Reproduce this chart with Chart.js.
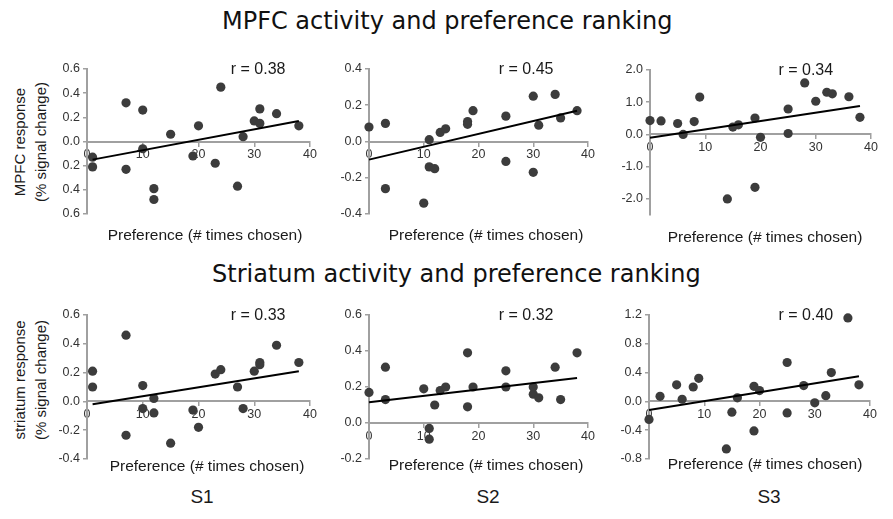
<!DOCTYPE html>
<html>
<head>
<meta charset="utf-8">
<script src="https://cdn.jsdelivr.net/npm/chart.js@4.4.1/dist/chart.umd.min.js"></script>
<style>
  body { margin: 0; background: #fff; }
  #wrap { position: relative; width: 893px; height: 519px; overflow: hidden; font-family: "Liberation Sans", Arial, sans-serif; color: #1a1a1a; }
  #wrap canvas { position: absolute; }
  .title { position: absolute; font-family: "DejaVu Sans", sans-serif; font-size: 24px; line-height: 28px; white-space: nowrap; color: #111; }
  .xtitle { position: absolute; width: 260px; text-align: center; font-size: 15.5px; line-height: 18px; white-space: nowrap; }
  .ytitle { position: absolute; width: 170px; height: 44px; text-align: center; font-size: 15px; line-height: 21px; transform: rotate(-90deg); white-space: nowrap; }
  .subj { position: absolute; width: 60px; text-align: center; font-size: 19px; line-height: 22px; }
</style>
</head>
<body>
<div id="wrap">
  <div class="title" style="left:222px; top:7px;">MPFC activity and preference ranking</div>
  <div class="title" style="left:212px; top:260px;">Striatum activity and preference ranking</div>
  <div class="ytitle" style="left:-54px; top:120px;">MPFC response<br>(% signal change)</div>
  <div class="ytitle" style="left:-54px; top:358px;">striatum response<br>(% signal change)</div>
  <div class="subj" style="left:172px; top:486px;">S1</div>
  <div class="subj" style="left:458px; top:486px;">S2</div>
  <div class="subj" style="left:739px; top:486px;">S3</div>
</div>
<script>
// x axis: number of times each item was chosen
const prefTicks = [0, 10, 20, 30, 40];
const xTitle = "Preference (# times chosen)";
const rValues = ["r = 0.38", "r = 0.45", "r = 0.34", "r = 0.33", "r = 0.32", "r = 0.40"];

// MPFC, subjects S1..S3
const mpfcS1X = [1, 1, 7, 7, 10, 10, 12, 12, 15, 19, 20, 23, 24, 27, 28, 30, 31, 31, 34, 38];
const mpfcS1Y = [-0.13, -0.21, 0.32, -0.23, 0.26, -0.06, -0.39, -0.48, 0.06, -0.12, 0.13, -0.18, 0.45, -0.37, 0.04, 0.17, 0.15, 0.27, 0.23, 0.13];
const mpfcS2X = [0, 3, 3, 10, 11, 11, 12, 13, 14, 18, 18, 19, 25, 25, 30, 30, 31, 34, 35, 38];
const mpfcS2Y = [0.08, 0.10, -0.26, -0.34, 0.01, -0.14, -0.15, 0.05, 0.07, 0.11, 0.095, 0.17, 0.14, -0.11, 0.25, -0.17, 0.09, 0.26, 0.13, 0.17];
const mpfcS3X = [0, 2, 5, 6, 8, 9, 14, 15, 16, 19, 19, 20, 25, 25, 28, 30, 32, 33, 36, 38];
const mpfcS3Y = [0.43, 0.42, 0.34, 0.0, 0.40, 1.16, -2.0, 0.23, 0.30, 0.51, -1.64, -0.09, 0.79, 0.03, 1.60, 1.03, 1.31, 1.26, 1.17, 0.53];

// striatum, subjects S1..S3
const strS1X = [1, 1, 7, 7, 10, 10, 12, 12, 15, 19, 20, 23, 24, 27, 28, 30, 31, 31, 34, 38];
const strS1Y = [0.21, 0.10, 0.46, -0.235, 0.11, -0.05, 0.02, -0.08, -0.29, -0.06, -0.18, 0.19, 0.22, 0.10, -0.05, 0.21, 0.27, 0.255, 0.39, 0.27];
const strS2X = [0, 3, 3, 10, 11, 11, 12, 13, 14, 18, 18, 19, 25, 25, 30, 30, 31, 34, 35, 38];
const strS2Y = [0.17, 0.31, 0.13, 0.19, -0.03, -0.09, 0.10, 0.18, 0.20, 0.39, 0.09, 0.20, 0.29, 0.20, 0.20, 0.16, 0.14, 0.31, 0.13, 0.39];
const strS3X = [0, 2, 5, 6, 8, 9, 14, 15, 16, 19, 19, 20, 25, 25, 28, 30, 32, 33, 36, 38];
const strS3Y = [-0.25, 0.07, 0.23, 0.03, 0.20, 0.32, -0.66, -0.15, 0.05, 0.21, -0.41, 0.15, 0.54, -0.16, 0.22, -0.02, 0.08, 0.40, 1.16, 0.23];

// fitted regression lines (end points)
const fitX = [[1, 38], [0, 38], [0, 38], [1, 38], [0, 38], [0, 38]];
const fitY = [[-0.15, 0.17], [-0.10, 0.17], [-0.10, 0.88], [-0.02, 0.21], [0.115, 0.25], [-0.12, 0.35]];

// y tick labels, bottom to top (S1 MPFC panel has no minus signs in the original)
const yTicks1 = ["0.6", "0.4", "0.2", "0.0", "0.2", "0.4", "0.6"];
const yTicks2 = ["-0.4", "-0.2", "0.0", "0.2", "0.4"];
const yTicks3 = ["-2.0", "-1.0", "0.0", "1.0", "2.0"];
const yTicks4 = ["-0.4", "-0.2", "0.0", "0.2", "0.4", "0.6"];
const yTicks5 = ["-0.2", "0.0", "0.2", "0.4", "0.6"];
const yTicks6 = ["-0.8", "-0.4", "0.0", "0.4", "0.8", "1.2"];

const AXIS = "#a0a0a0";
const FONT = '"Liberation Sans", Arial, sans-serif';

const panels = [
  { xs: mpfcS1X, ys: mpfcS1Y, min: -0.6, max: 0.6, step: 0.2, labels: yTicks1, rAt: 30.7, area: [87, 310, 69, 214], xt: [205, 235] },
  { xs: mpfcS2X, ys: mpfcS2Y, min: -0.4, max: 0.4, step: 0.2, labels: yTicks2, rAt: 28.7, area: [369, 588, 69, 214], xt: [486, 235] },
  { xs: mpfcS3X, ys: mpfcS3Y, min: -2.5, max: 2.0, step: 1.0, labels: yTicks3, rAt: 28.2, area: [650, 871, 70, 215], xt: [765, 237] },
  { xs: strS1X, ys: strS1Y, min: -0.4, max: 0.6, step: 0.2, labels: yTicks4, rAt: 30.7, area: [87, 310, 315, 459], xt: [207, 466] },
  { xs: strS2X, ys: strS2Y, min: -0.2, max: 0.6, step: 0.2, labels: yTicks5, rAt: 28.7, area: [369, 588, 315, 459], xt: [486, 465] },
  { xs: strS3X, ys: strS3Y, min: -0.8, max: 1.2, step: 0.4, labels: yTicks6, rAt: 28.4, area: [649, 870, 315, 459], xt: [765, 464] },
];

// draws the "r = ..." note near the top right of each plot
const rLabel = {
  id: "rLabel",
  afterDraw(chart, args, opts) {
    const { ctx, chartArea, scales } = chart;
    ctx.save();
    ctx.font = "16px " + FONT;
    ctx.fillStyle = "#1a1a1a";
    ctx.textAlign = "center";
    ctx.textBaseline = "alphabetic";
    ctx.fillText(opts.text, scales.x.getPixelForValue(opts.at), chartArea.top + 5);
    ctx.restore();
  }
};

const wrap = document.getElementById("wrap");
const YW = 40, PT = 20, PB = 20, PR = 12;

panels.forEach((p, i) => {
  const [L, R, T, B] = p.area;
  const canvas = document.createElement("canvas");
  const w = R + PR - (L - YW), h = B - T + PT + PB;
  canvas.width = w; canvas.height = h;
  canvas.style.left = (L - YW) + "px";
  canvas.style.top = (T - PT) + "px";
  canvas.style.width = w + "px";
  canvas.style.height = h + "px";
  wrap.appendChild(canvas);

  const xt = document.createElement("div");
  xt.className = "xtitle";
  xt.textContent = xTitle;
  xt.style.left = (p.xt[0] - 130) + "px";
  xt.style.top = (p.xt[1] - 9) + "px";
  wrap.appendChild(xt);

  const pts = p.xs.map((x, k) => ({ x, y: p.ys[k] }));
  const fit = fitX[i].map((x, k) => ({ x, y: fitY[i][k] }));

  new Chart(canvas, {
    type: "scatter",
    data: {
      datasets: [
        { type: "line", data: fit, borderColor: "#000", borderWidth: 2, pointRadius: 0, fill: false, clip: false, order: 0 },
        { data: pts, backgroundColor: "#3c3c3c", borderWidth: 0, pointRadius: 4.6, pointHoverRadius: 4.6, clip: false, order: 1 }
      ]
    },
    options: {
      responsive: false,
      animation: false,
      events: [],
      layout: { padding: { left: 0, top: PT, right: PR, bottom: PB } },
      plugins: {
        legend: { display: false },
        tooltip: { enabled: false },
        rLabel: { text: rValues[i], at: p.rAt }
      },
      scales: {
        x: {
          type: "linear",
          min: prefTicks[0],
          max: prefTicks[prefTicks.length - 1],
          position: { y: 0 },
          afterBuildTicks: s => { s.ticks = prefTicks.map(v => ({ value: v })); },
          ticks: { color: "#333", font: { family: FONT, size: 12.5 }, padding: 2, maxRotation: 0, autoSkip: false },
          grid: { drawOnChartArea: false, tickLength: 4, color: AXIS, lineWidth: 1.5 },
          border: { color: AXIS, width: 2 }
        },
        y: {
          min: p.min,
          max: p.max,
          afterFit: s => { s.width = YW; },
          ticks: {
            stepSize: p.step,
            includeBounds: false,
            color: "#333",
            font: { family: FONT, size: 12.5 },
            padding: 3,
            callback: (v, idx) => p.labels[idx]
          },
          grid: { drawOnChartArea: false, tickLength: 4, color: AXIS, lineWidth: 1.5 },
          border: { color: AXIS, width: 2 }
        }
      }
    },
    plugins: [rLabel]
  });
});
</script>
</body>
</html>
